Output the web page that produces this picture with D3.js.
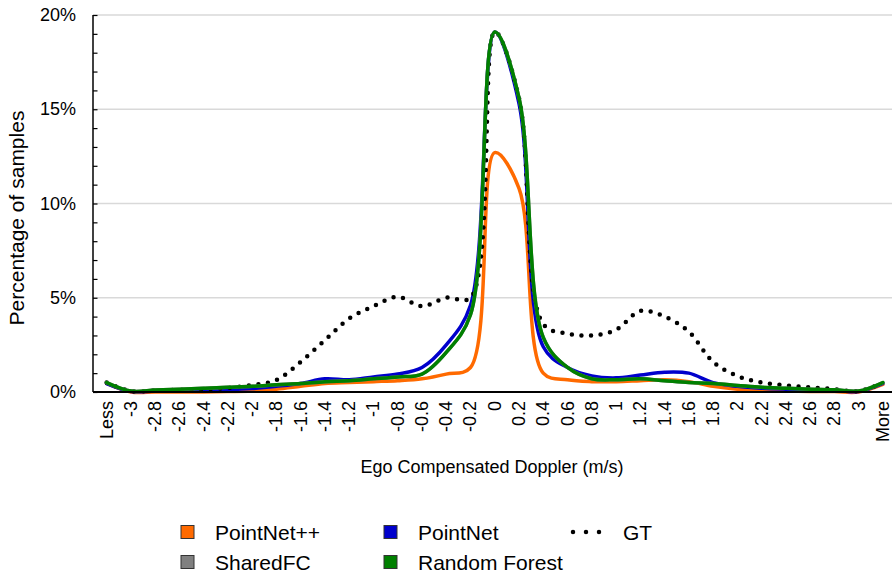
<!DOCTYPE html>
<html>
<head>
<meta charset="utf-8">
<script src="https://cdn.jsdelivr.net/npm/d3@7"></script>
<style>
  html, body { margin: 0; padding: 0; background: #fff; }
  svg { display: block; font-family: "Liberation Sans", Arial, sans-serif; }
</style>
</head>
<body>
<svg id="chart" width="892" height="572"></svg>
<script>
// categories (bins of ego compensated doppler, m/s)
const categories = ["Less", "-3", "-2.8", "-2.6", "-2.4", "-2.2", "-2", "-1.8", "-1.6", "-1.4", "-1.2", "-1",
  "-0.8", "-0.6", "-0.4", "-0.2", "0", "0.2", "0.4", "0.6", "0.8", "1", "1.2", "1.4", "1.6", "1.8",
  "2", "2.2", "2.4", "2.6", "2.8", "3", "More"];

// percentage of samples per bin
const pointNetPP = [0.45, 0.0, 0.0, 0.0, 0.0, 0.02, 0.05, 0.15, 0.3, 0.45, 0.5, 0.55,
  0.6, 0.7, 0.95, 1.3, 12.7, 10.8, 1.0, 0.65, 0.55, 0.55, 0.6, 0.65, 0.55, 0.3,
  0.15, 0.08, 0.05, 0.03, 0.02, 0.0, 0.4];
const pointNet = [0.45, 0.03, 0.05, 0.08, 0.1, 0.12, 0.18, 0.3, 0.45, 0.7, 0.65, 0.8,
  0.95, 1.3, 2.5, 4.6, 19.1, 15.3, 2.4, 1.3, 0.85, 0.75, 0.9, 1.05, 1.0, 0.5,
  0.3, 0.2, 0.15, 0.12, 0.1, 0.02, 0.45];
const gt = [0.5, 0.05, 0.08, 0.12, 0.15, 0.22, 0.37, 0.64, 1.6, 2.75, 3.9, 4.55,
  5.05, 4.55, 5.0, 5.0, 19.1, 15.6, 3.6, 3.1, 3.0, 3.3, 4.3, 4.0, 3.2, 1.6,
  0.85, 0.5, 0.35, 0.25, 0.15, 0.05, 0.5];
const sharedFC = [0.5, 0.05, 0.1, 0.15, 0.2, 0.25, 0.3, 0.38, 0.45, 0.55, 0.6, 0.7,
  0.8, 0.95, 2.1, 4.1, 19.1, 15.6, 2.9, 1.3, 0.7, 0.65, 0.7, 0.6, 0.5, 0.45,
  0.35, 0.25, 0.2, 0.15, 0.12, 0.05, 0.5];
const randomForest = [0.5, 0.05, 0.1, 0.15, 0.2, 0.25, 0.3, 0.38, 0.45, 0.55, 0.6, 0.7,
  0.8, 0.95, 2.1, 4.1, 19.1, 15.6, 2.9, 1.3, 0.7, 0.65, 0.7, 0.6, 0.5, 0.45,
  0.35, 0.25, 0.2, 0.15, 0.12, 0.05, 0.5];

const yTicks = [0, 5, 10, 15, 20];

// drawing order follows the series order of the original
const series = [
  { name: "PointNet++", values: pointNetPP, color: "#ff6a00" },
  { name: "PointNet", values: pointNet, color: "#0000cc" },
  { name: "GT", values: gt, color: "#000", dotted: true },
  { name: "SharedFC", values: sharedFC, color: "#808080" },
  { name: "Random Forest", values: randomForest, color: "#008000" }
];

const svg = d3.select("#chart");
const plotLeft = 93, plotRight = 892, plotTop = 15, plotBottom = 392;

const x = d3.scalePoint().domain(categories).range([94.5, 895]).padding(0.5);
const y = d3.scaleLinear().domain([0, 20]).range([plotBottom, plotTop]);

// gridlines
svg.append("g")
  .selectAll("line")
  .data(yTicks.filter(d => d > 0))
  .join("line")
  .attr("x1", plotLeft).attr("x2", plotRight)
  .attr("y1", d => y(d)).attr("y2", d => y(d))
  .attr("stroke", "#d9d9d9").attr("stroke-width", 1.5);

// y axis with minor ticks every 1%
const yAxis = svg.append("g").attr("transform", `translate(${plotLeft},0)`)
  .call(d3.axisRight(y).tickValues(d3.range(0, 21, 1)).tickSize(4.5).tickFormat(""));
yAxis.select(".domain").remove();
yAxis.selectAll("line").attr("stroke", "#000").attr("stroke-width", 1.2);
svg.append("line")
  .attr("x1", plotLeft).attr("x2", plotLeft).attr("y1", plotTop).attr("y2", plotBottom)
  .attr("stroke", "#000").attr("stroke-width", 1.5);

svg.append("g")
  .selectAll("text")
  .data(yTicks)
  .join("text")
  .attr("x", 76).attr("y", d => y(d))
  .attr("text-anchor", "end").attr("dominant-baseline", "central")
  .attr("font-size", 18).attr("fill", "#000")
  .text(d => d + "%");

// x labels
svg.append("g")
  .selectAll("text")
  .data(categories)
  .join("text")
  .attr("transform", d => `translate(${x(d)},401) rotate(-90)`)
  .attr("text-anchor", "end").attr("dominant-baseline", "central")
  .attr("font-size", 18).attr("fill", "#000")
  .text(d => d);

// lines
const line = d3.line()
  .x((d, i) => x(categories[i]))
  .y(d => y(d))
  .curve(d3.curveCatmullRom.alpha(0.5));

series.forEach(s => {
  const p = svg.append("path")
    .attr("d", line(s.values))
    .attr("fill", "none")
    .attr("stroke", s.color)
    .attr("stroke-linejoin", "round");
  if (s.dotted) {
    p.attr("stroke-width", 4.5).attr("stroke-linecap", "round").attr("stroke-dasharray", "0 9.6");
  } else {
    p.attr("stroke-width", 3.5).attr("stroke-linecap", "round");
  }
});

// x axis line
svg.append("line")
  .attr("x1", plotLeft).attr("x2", plotRight).attr("y1", plotBottom).attr("y2", plotBottom)
  .attr("stroke", "#000").attr("stroke-width", 2);

// titles
svg.append("text")
  .attr("transform", "translate(16,218) rotate(-90)")
  .attr("text-anchor", "middle").attr("dominant-baseline", "central")
  .attr("font-size", 21).attr("fill", "#000")
  .text("Percentage of samples");

svg.append("text")
  .attr("x", 492).attr("y", 467)
  .attr("text-anchor", "middle").attr("dominant-baseline", "central")
  .attr("font-size", 18).attr("fill", "#000")
  .text("Ego Compensated Doppler (m/s)");

// legend
const legendPos = {
  "PointNet++": [181, 532], "PointNet": [384, 532], "GT": [573, 532],
  "SharedFC": [181, 562], "Random Forest": [384, 562]
};
const legend = svg.append("g");
series.forEach(s => {
  const [lx, ly] = legendPos[s.name];
  if (s.dotted) {
    legend.append("line")
      .attr("x1", lx).attr("x2", lx + 39).attr("y1", ly).attr("y2", ly)
      .attr("stroke", "#000").attr("stroke-width", 4.5)
      .attr("stroke-linecap", "round").attr("stroke-dasharray", "0 13");
    legend.append("text")
      .attr("x", lx + 50).attr("y", ly)
      .attr("dominant-baseline", "central")
      .attr("font-size", 21).attr("fill", "#000")
      .text(s.name);
  } else {
    legend.append("rect")
      .attr("x", lx).attr("y", ly - 6.5).attr("width", 13).attr("height", 13)
      .attr("fill", s.color).attr("stroke", "#333").attr("stroke-width", 1);
    legend.append("text")
      .attr("x", lx + 34).attr("y", ly)
      .attr("dominant-baseline", "central")
      .attr("font-size", 21).attr("fill", "#000")
      .text(s.name);
  }
});
</script>
</body>
</html>
